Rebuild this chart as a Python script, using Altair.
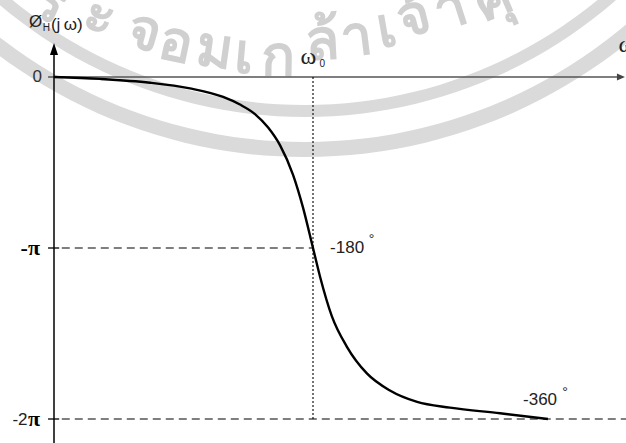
import altair as alt
import pandas as pd

# Phase response of H(jw): frequency normalised to w0, phase in degrees
omega = [0, 0.178, 0.371, 0.525, 0.653, 0.718, 0.776, 0.826, 0.873, 0.923,
         0.961, 1.0, 1.027, 1.073, 1.131, 1.208, 1.297, 1.402, 1.529, 1.722, 1.907]
phase = [0, -2, -6, -12, -21, -29, -39, -53, -72, -103,
         -137, -180, -210, -252, -284, -312, -330, -342, -348, -354, -360]

W, H = 626, 443
# axis origin sits 54 px from the left, 77 px from the top; 259 px per w0, 171 px per 180 deg
X_DOM = [-54 / 259, (W - 54) / 259]
Y_DOM = [-(H - 77) * 180 / 171, 77 * 180 / 171]

xs = alt.Scale(domain=X_DOM, nice=False, zero=False)
ys = alt.Scale(domain=Y_DOM, nice=False, zero=False)


def X(f):
    return alt.X(f, scale=xs, axis=None)


def Y(f):
    return alt.Y(f, scale=ys, axis=None)


def PX(f):
    return alt.X(f, scale=None, axis=None)


def PY(f):
    return alt.Y(f, scale=None, axis=None)


curve_df = pd.DataFrame({"w": omega, "p": phase})

# ---------- faint seal watermark (pixel space) ----------
PI = 3.14159265
band_df = pd.DataFrame({
    "cx": [305, 305], "cy": [-355, -355],
    "r0": [460, 497], "r1": [472, 512],
    "t0": [PI - 0.95, PI - 0.95], "t1": [PI + 0.95, PI + 0.95],
})
seal_chars = ["ร", "ะ", "จ", "อ", "ม", "เ", "ก", "ล้", "า", "เ", "จ้", "า", "คุ"]
seal_x = [50, 100, 145, 176, 215, 244, 278, 322, 356, 386, 414, 450, 492]
seal_y = [4, 16, 32, 44, 50, 56, 58, 42, 38, 30, 18, 10, 0]
seal_a = [24, 20, 16, 12, 8, 5, 1, -3, -7, -10, -14, -18, -23]
seal_df = pd.DataFrame({"c": seal_chars, "x": seal_x, "y": seal_y, "a": seal_a})

bands = alt.Chart(band_df).mark_arc(color="#dadada", clip=True).encode(
    x=PX("cx:Q"), y=PY("cy:Q"),
    radius=alt.Radius("r1:Q", scale=None), radius2=alt.Radius2("r0:Q"),
    theta=alt.Theta("t0:Q", scale=None), theta2=alt.Theta2("t1:Q"),
)
seal_text = alt.Chart(seal_df).mark_text(
    fontSize=56, fontWeight="bold", color="#d0d0d0", font="Noto Sans",
    baseline="middle", align="center"
).encode(x=PX("x:Q"), y=PY("y:Q"), angle=alt.Angle("a:Q", scale=None), text="c:N")

# ---------- axes ----------
axis_df = pd.DataFrame({"x0": [0], "y0": [27], "y1": [Y_DOM[0]]})
y_axis = alt.Chart(axis_df).mark_rule(color="black", strokeWidth=1.5).encode(
    x=X("x0:Q"), y=Y("y0:Q"), y2="y1:Q")
y_arrow = alt.Chart(pd.DataFrame({"x": [0], "y": [29.5]})).mark_point(
    shape="M0,-1L0.667,1L-0.667,1Z", size=144, filled=True, color="black", opacity=1
).encode(x=X("x:Q"), y=Y("y:Q"))

x_axis = alt.Chart(pd.DataFrame({"x0": [-0.023], "x1": [2.178], "y": [0]})).mark_rule(
    color="#555555", strokeWidth=1.5).encode(x=X("x0:Q"), x2="x1:Q", y=Y("y:Q"))
x_arrow = alt.Chart(pd.DataFrame({"x": [2.189], "y": [0]})).mark_point(
    shape="M1,0L-1,0.85L-1,-0.85Z", size=64, filled=True, color="#444444", opacity=1
).encode(x=X("x:Q"), y=Y("y:Q"))

tick_df = pd.DataFrame({"x0": [-0.023, -0.023], "x1": [0.02, 0.02], "y": [-180, -360]})
ticks = alt.Chart(tick_df).mark_rule(color="black", strokeWidth=1.3).encode(
    x=X("x0:Q"), x2="x1:Q", y=Y("y:Q"))

dash_df = pd.DataFrame({"x0": [0.03, 0.03], "x1": [1.0, X_DOM[1]], "y": [-180, -360]})
dashes = alt.Chart(dash_df).mark_rule(color="black", strokeWidth=1.2, strokeDash=[8, 5]).encode(
    x=X("x0:Q"), x2="x1:Q", y=Y("y:Q"))

w0_df = pd.DataFrame({"x": [1.0], "y0": [0], "y1": [-360]})
w0_line = alt.Chart(w0_df).mark_rule(color="black", strokeWidth=1.1, strokeDash=[2, 2]).encode(
    x=X("x:Q"), y=Y("y0:Q"), y2="y1:Q")

curve = alt.Chart(curve_df).mark_line(
    color="black", strokeWidth=2.4, interpolate="monotone").encode(
    x=X("w:Q"), y=Y("p:Q"))


# ---------- labels ----------
def label(txt, x, y, size, font="Liberation Sans", weight="normal", align="left",
          color="#222222", baseline="middle"):
    return alt.Chart(pd.DataFrame({"x": [x], "y": [y], "t": [txt]})).mark_text(
        fontSize=size, font=font, fontWeight=weight, align=align, baseline=baseline,
        color=color).encode(x=X("x:Q"), y=Y("y:Q"), text="t:N")


labels = [
    label("0", -0.046, 0, 17, align="right", color="#333333"),
    label("-π", -0.054, -180, 22, font="Liberation Serif", weight="bold", align="right", color="black"),
    label("π", -0.054, -360, 22, font="Liberation Serif", weight="bold", align="right", color="black"),
    label("-2", -0.102, -361, 17, align="right", color="#222222"),
    label("-180", 1.066, -180, 17),
    label("°", 1.215, -172, 14),
    label("-360", 1.811, -340, 17),
    label("°", 1.962, -333, 14),
    label("ω", 0.952, 21, 24, font="Liberation Serif"),
    label("0", 1.025, 14, 10),
    label("ω", 2.18, 34, 24, font="Liberation Serif"),
    label("Ø", -0.097, 58, 17),
    label("H", -0.043, 52, 10),
    label("(j\u2009ω)", -0.012, 55, 17),
]

chart = alt.layer(
    bands, seal_text, x_axis, x_arrow, y_axis, y_arrow, ticks, dashes, w0_line, curve, *labels
).properties(
    width=W, height=H, padding=0, background="white",
    autosize=alt.AutoSizeParams(type="none"),
).configure_view(stroke=None)

chart.save("out.html", embed_options={"renderer": "svg", "actions": False})
